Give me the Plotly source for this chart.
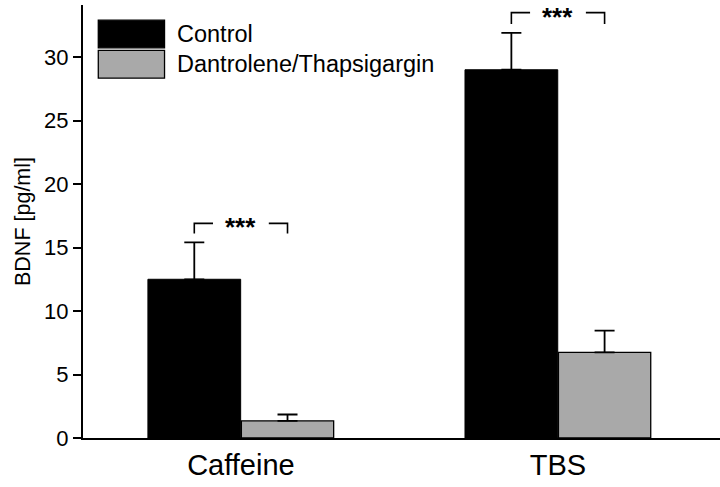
import plotly.graph_objects as go

categories = ["Caffeine", "TBS"]
control = [12.5, 29.0]
control_err = [2.9, 2.9]
treated = [1.35, 6.75]
treated_err = [0.5, 1.7]
series_names = ["Control", "Dantrolene/Thapsigargin"]
bracket_y = [16.9, 33.5]
bracket_drop = [16.1, 32.6]
yticks = [0, 5, 10, 15, 20, 25, 30]

FONT = "Liberation Sans, Arial, sans-serif"
half = 0.147
gray = "#a9a9a9"
idx = list(range(len(categories)))

fig = go.Figure()
fig.add_trace(go.Bar(
    x=[i - half for i in idx], y=control, width=2 * half * 0.995,
    name=series_names[0], marker=dict(color="black", line=dict(color="black", width=1)),
    error_y=dict(type="data", array=control_err, arrayminus=[0] * len(idx), symmetric=False,
                 color="black", thickness=1.8, width=10),
    showlegend=False))
fig.add_trace(go.Bar(
    x=[i + half for i in idx], y=treated, width=2 * half * 0.99,
    name=series_names[1], marker=dict(color=gray, line=dict(color="black", width=1.3)),
    error_y=dict(type="data", array=treated_err, arrayminus=[0] * len(idx), symmetric=False,
                 color="black", thickness=1.8, width=10),
    showlegend=False))

# significance brackets
gap = 0.088
for i, yb, yd in zip(idx, bracket_y, bracket_drop):
    l, r = i - half, i + half
    for xs, ys in [([l, l, i - gap], [yd, yb, yb]), ([i + gap, r, r], [yb, yb, yd])]:
        fig.add_trace(go.Scatter(x=xs, y=ys, mode="lines", line=dict(color="black", width=1.6),
                                 showlegend=False, hoverinfo="skip"))
    fig.add_annotation(x=i, y=yb, text="<b>***</b>", showarrow=False, yanchor="middle", yshift=-4,
                       font=dict(family=FONT, size=26, color="black"))

# legend drawn by hand to get the large swatches
for k, (name, col) in enumerate(zip(series_names, ["black", gray])):
    y0 = 0.965 - k * 0.07
    fig.add_shape(type="rect", xref="paper", yref="paper", x0=0.024, x1=0.128,
                  y0=y0 - 0.064, y1=y0, fillcolor=col, line=dict(color="black", width=1.3))
    fig.add_annotation(xref="paper", yref="paper", x=0.145, y=y0 - 0.032, text=name,
                       showarrow=False, xanchor="left", yanchor="middle",
                       font=dict(family=FONT, size=23.5, color="black"))

fig.update_layout(
    width=720, height=487, margin=dict(l=83, r=0, t=5, b=49),
    plot_bgcolor="white", paper_bgcolor="white", barmode="overlay",
    font=dict(family=FONT, color="black"),
    xaxis=dict(range=[-0.498, 1.511], tickvals=idx, ticktext=categories, ticks="",
               showline=True, linecolor="black", linewidth=2, showgrid=False, zeroline=False,
               tickfont=dict(size=29)),
    yaxis=dict(range=[0, 34.1], tickvals=yticks, ticks="outside", ticklen=8, tickwidth=2,
               tickcolor="black", showline=True, linecolor="black", linewidth=2,
               showgrid=False, zeroline=False, tickfont=dict(size=22),
               title=dict(text="BDNF [pg/ml]", font=dict(size=21.5), standoff=8)),
)

fig.write_html("out.html", config={"displayModeBar": False},
               post_script="document.body.style.margin='0px';")
